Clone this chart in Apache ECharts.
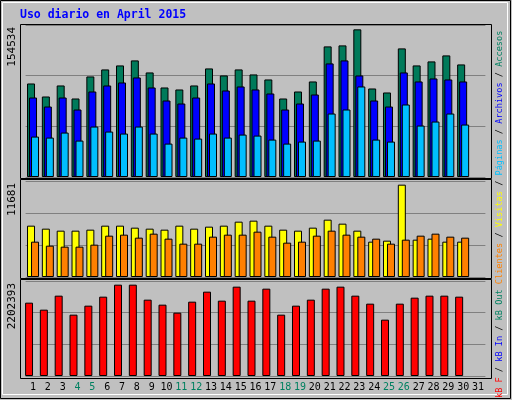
<!DOCTYPE html><html><head><meta charset="utf-8"><script src="https://cdn.jsdelivr.net/npm/echarts@6/dist/echarts.min.js"></script>
<style>html,body{margin:0;background:#c0c0c0}#c{width:512px;height:400px}</style></head><body><div id="c"></div><script>
const days=['1','2','3','4','5','6','7','8','9','10','11','12','13','14','15','16','17','18','19','20','21','22','23','24','25','26','27','28','29','30','31'];
const weekend=['4','5','11','12','18','19','25','26'];
const accesos=[95090,81850,93060,79810,102230,109360,113430,118530,106300,91020,88980,93060,110380,103250,109360,104270,99170,79810,86940,97130,132790,133810,150110,90000,85930,130760,113430,117510,123620,114450];
const archivos=[80825,71656,80825,68599,86938,93050,96107,101201,91013,77768,74712,80825,95088,87956,92032,88975,84900,68599,74712,83881,115464,118520,103238,77768,71656,106295,97126,100182,99163,97126];
const paginas=[41092,40073,45167,37016,51280,46186,44148,51280,44148,33960,40073,39054,44148,40073,43129,42110,38035,33960,35998,37016,64524,68599,92032,38035,35998,73693,52298,56374,64524,53317];
const visitas=[6246,5881,5638,5638,5760,6246,6246,6003,5881,5760,6246,5881,6125,6246,6733,6855,6246,5760,5638,6003,6976,6490,5638,4299,4421,11235,4543,4664,4299,4299];
const clientes=[4299,3813,3691,3691,3934,5029,5151,4786,5273,4664,4056,4056,4908,5151,5151,5516,4908,4178,4299,5029,5638,5151,4908,4664,4056,4543,5029,5273,4908,4786];
const kbF=[1700160,1537872,1862448,1421952,1630608,1839264,2117472,2117472,1769712,1653792,1468320,1723344,1955184,1746528,2071104,1746528,2024736,1421952,1630608,1769712,2024736,2071104,1862448,1676976,1306032,1676976,1816080,1862448,1862448,1839264];
const maxLabels=['154534','11681','2202393'];
const maxes=[154534,11681,2202393];
const mono='DejaVu Sans Mono';
const chart=echarts.init(document.getElementById('c'));
const grids=[{top:25,height:152},{top:181,height:96},{top:281,height:95}];
const bs={borderColor:'#000',borderWidth:1};
const xAxes=grids.map((g,i)=>({type:'category',data:days,gridIndex:i,axisLine:{show:false},axisTick:{show:false},
 axisLabel:i<2?{show:false}:{interval:0,hideOverlap:false,fontFamily:mono,fontSize:10,color:'#000',margin:6,formatter:v=>weekend.includes(v)?'{w|'+v+'}':v,rich:{w:{color:'#008060',fontFamily:mono,fontSize:10}}}}));
const yAxes=maxes.map((m,i)=>({type:'value',gridIndex:i,min:0,max:m,interval:m/3,axisLabel:{show:false},axisLine:{show:false},axisTick:{show:false},splitLine:{lineStyle:{color:'#808080',width:1}}}));
const frames=[[20,24,471,154],[20,179,471,99],[20,279,471,99]].map(f=>({type:'rect',shape:{x:f[0]+.5,y:f[1]+.5,width:f[2],height:f[3]},style:{fill:'#c0c0c0',stroke:'#000',lineWidth:1},z:-1,silent:true}));
const ylabels=[[25],[181],[281]].map((p,i)=>({type:'text',x:18,y:p[0]+2,rotation:Math.PI/2,style:{text:maxLabels[i],font:'11px '+mono,fill:'#000',align:'right',verticalAlign:'bottom'}}));
const lf='8.6px '+mono;
chart.setOption({animation:false,backgroundColor:'#c0c0c0',
 grid:grids.map(g=>({left:25.6,right:26.6,top:g.top,height:g.height})),
 xAxis:xAxes,yAxis:yAxes,
 graphic:[{type:'rect',shape:{x:0.5,y:0.5,width:510,height:398},style:{fill:'none',stroke:'#000',lineWidth:1},z:-2},
  {type:'rect',shape:{x:2.5,y:2.5,width:505,height:392},style:{fill:'none',stroke:'#fff',lineWidth:1},z:-2},
  ...frames,...ylabels,
  {type:'text',x:20,y:9,style:{text:'Uso diario en April 2015',font:'bold 11.5px '+mono,fill:'#0000ff'}},
  {type:'text',x:495,y:398,rotation:Math.PI/2,style:{text:'{r|kB F}{k| / }{b|kB In}{k| / }{g|kB Out} {o|Clientes}{k| / }{y|Visitas}{k| / }{c|Páginas}{k| / }{b|Archivos}{k| / }{t|Accesos}',font:lf,
   rich:{r:{fill:'#ff0000',font:lf},k:{fill:'#000',font:lf},b:{fill:'#0000ff',font:lf},g:{fill:'#008060',font:lf},o:{fill:'#ff8000',font:lf},y:{fill:'#ffff00',font:lf},c:{fill:'#00bfff',font:lf},t:{fill:'#008060',font:lf}}}}
 ],
 series:[
  {type:'bar',xAxisIndex:0,yAxisIndex:0,data:accesos,barWidth:8,barGap:'-75%',itemStyle:{color:'#007a5a',...bs}},
  {type:'bar',xAxisIndex:0,yAxisIndex:0,data:archivos,barWidth:8,barGap:'-75%',itemStyle:{color:'#0000ff',...bs}},
  {type:'bar',xAxisIndex:0,yAxisIndex:0,data:paginas,barWidth:8,barGap:'-75%',itemStyle:{color:'#00bfff',...bs}},
  {type:'bar',xAxisIndex:1,yAxisIndex:1,data:visitas,barWidth:8,barGap:'-50%',itemStyle:{color:'#ffff00',...bs}},
  {type:'bar',xAxisIndex:1,yAxisIndex:1,data:clientes,barWidth:8,barGap:'-50%',itemStyle:{color:'#ff8000',...bs}},
  {type:'bar',xAxisIndex:2,yAxisIndex:2,data:kbF,barWidth:8,barGap:'0%',itemStyle:{color:'#ff0000',...bs}},
  {type:'bar',xAxisIndex:2,yAxisIndex:2,data:[],barWidth:8,barGap:'0%'}
 ]});
</script></body></html>
